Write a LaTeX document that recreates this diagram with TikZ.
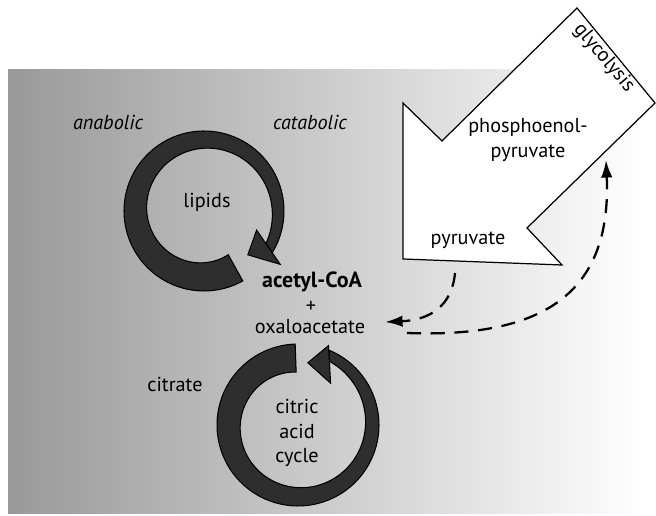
\documentclass[tikz,border=0pt]{standalone}
\usepackage{fontspec}
\setsansfont{PT Sans}
\usepackage{xcolor}
\usetikzlibrary{arrows.meta}

\begin{document}
\begin{tikzpicture}[x=0.02cm,y=0.02cm,font=\sffamily\fontsize{11.5}{14}\selectfont,ring/.style={fill=black!82,draw=black,line width=0.6pt},flow/.style={dash pattern=on 8pt off 5.5pt,line width=1.3pt,-{Latex[length=10pt,width=6.5pt]}},lbl/.style={inner sep=1pt,align=center}]
\useasboundingbox (0,0) rectangle (656,516);
\shade[left color=black!40,right color=white] (8,2) rectangle (645,446);
\filldraw[fill=white,line width=0.7pt] (577,508) -- (655,413) -- (527,288) -- (562,251) -- (403,257) -- (403,413) -- (442,375) -- cycle;
\node[lbl,rotate=-50] (gly) at (604,458) {glycolysis};
\node[lbl] (pep) at (528,376) {phosphoenol-\\pyruvate};
\node[lbl] (pyr) at (468,276) {pyruvate};
\node[lbl] (anab) at (108,394) {\itshape anabolic};
\node[lbl] (catab) at (310,394) {\itshape catabolic};
\path[ring,shift={(204,305)}] plot[domain=-61:-392,samples=90] (\x:80) -- plot[domain=-388:-61,samples=90] (\x:{50+20*(-61-(\x))/327}) -- cycle;
\path[ring,shift={(204,305)}] (-20:56) -- (-45:62) -- (-35:93) -- cycle;
\node[lbl] (lip) at (207,314) {lipids};
\node[lbl] (acoa) at (312,234) {\fontsize{12.5}{14}\selectfont\textbf{acetyl-CoA}};
\node[lbl] (plus) at (311,209) {+};
\node[lbl] (oxa) at (310,189) {oxaloacetate};
\path[ring,shift={(298,91)}] plot[domain=92:427.5,samples=90] (\x:81) -- plot[domain=424:92,samples=90] (\x:{53+18*((\x)-92)/332}) -- cycle;
\path[ring,shift={(298,91)}] (69:85) -- (81:63) -- (52:53) -- cycle;
\node[lbl] (cit) at (175,132) {citrate};
\node[lbl] (tca) at (297,83) {citric\\acid\\cycle};
\coordinate (pyrout) at (455,243);
\coordinate (oxain) at (385,194);
\coordinate (oxaout) at (407,183);
\coordinate (pepin) at (606,356);
\draw[flow] (pyrout) .. controls (452,210) and (430,196) .. (oxain);
\draw[flow] (oxaout) .. controls (540,178) and (612,220) .. (pepin);
\end{tikzpicture}
\end{document}
